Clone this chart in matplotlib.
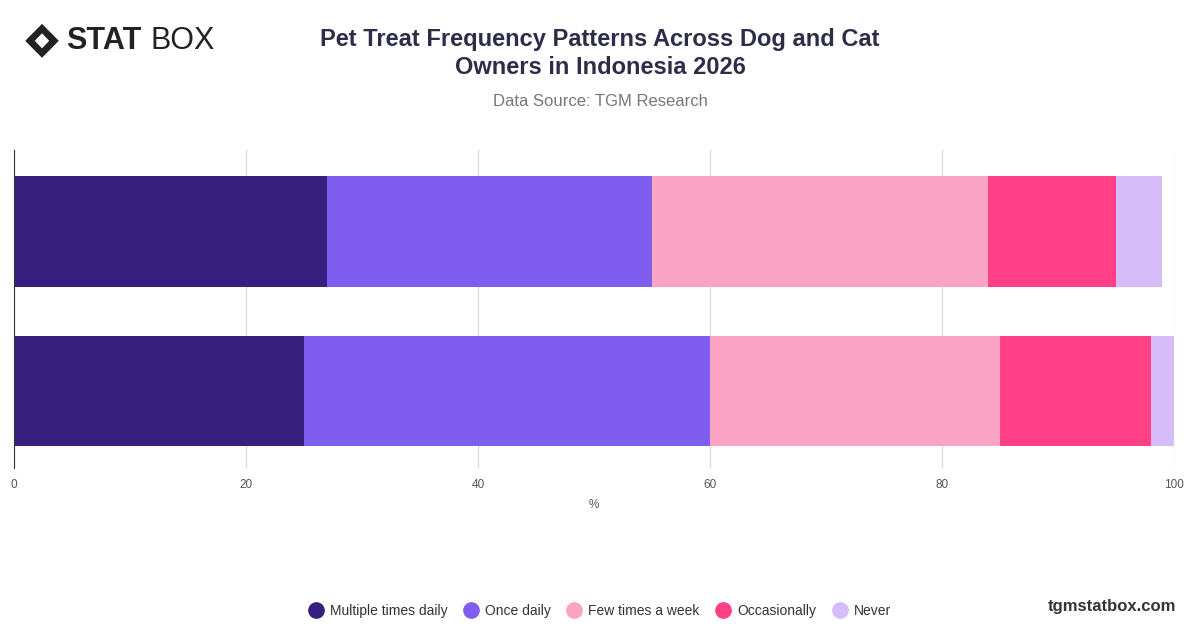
import matplotlib
matplotlib.use("Agg")
import matplotlib.pyplot as plt
from matplotlib.patches import Polygon
from matplotlib.lines import Line2D

categories = ["Dog owners", "Cat owners"]
series = ["Multiple times daily", "Once daily", "Few times a week", "Occasionally", "Never"]
values = {
    "Multiple times daily": [27, 25],
    "Once daily": [28, 35],
    "Few times a week": [29, 25],
    "Occasionally": [11, 13],
    "Never": [4, 2],
}
colors = ["#371F80", "#7F5DEF", "#FBA3C3", "#FF3F86", "#D6BCF9"]
xticks = [0, 20, 40, 60, 80, 100]

plt.rcParams['font.family'] = ['Liberation Sans', 'DejaVu Sans']
fig = plt.figure(figsize=(12, 6.28), dpi=100)
ax = fig.add_axes([0.0117, 0.255, 0.9667, 0.506])

left = [0, 0]
pos = list(range(len(categories)))
for s, c in zip(series, colors):
    ax.barh(pos, values[s], left=left, height=0.69, color=c, label=s, zorder=2)
    left = [a + b for a, b in zip(left, values[s])]

ax.set_xlim(0, 100)
ax.set_ylim(1.48, -0.51)
ax.set_yticks([])
ax.set_xticks(xticks)
ax.tick_params(axis='x', length=0, labelsize=8.5, labelcolor='#555555', pad=8)
ax.grid(axis='x', color='#dddddd', linewidth=1, zorder=0)
for sp in ['top', 'right', 'bottom']:
    ax.spines[sp].set_visible(False)
ax.spines['left'].set_color('#333333')
ax.set_xlabel('%', fontsize=8.5, color='#555555', labelpad=6)

fig.text(0.5, 0.915, "Pet Treat Frequency Patterns Across Dog and Cat\nOwners in Indonesia 2026",
         ha='center', va='center', fontsize=17, fontweight='bold', color='#2d2d4a', linespacing=1.3)
fig.text(0.5, 0.838, "Data Source: TGM Research", ha='center', va='center', fontsize=12, color='#777777')

# logo
fig.text(0.055, 0.935, "STAT", ha='left', va='center', fontsize=22, fontweight='bold', color='#222222')
fig.text(0.1255, 0.935, "BOX", ha='left', va='center', fontsize=22, color='#222222')
d = Polygon([[0.021, 0.935], [0.035, 0.962], [0.049, 0.935], [0.035, 0.908]], closed=True,
            transform=fig.transFigure, facecolor='#222222')
fig.patches.append(d)
d2 = Polygon([[0.029, 0.935], [0.035, 0.947], [0.041, 0.935], [0.035, 0.923]], closed=True,
             transform=fig.transFigure, facecolor='white')
fig.patches.append(d2)

handles = [Line2D([], [], marker='o', linestyle='none', markersize=11, markerfacecolor=c,
                  markeredgecolor=c) for c in colors]
fig.legend(handles, series, loc='center', bbox_to_anchor=(0.5, 0.027), ncol=5, frameon=False,
           fontsize=10, handlelength=1.0, columnspacing=1.2, handletextpad=0.5, labelcolor='#333333')
fig.text(0.98, 0.035, "tgmstatbox.com", ha='right', va='center', fontsize=12, fontweight='bold', color='#333333')

fig.savefig("out.png", dpi=100)
